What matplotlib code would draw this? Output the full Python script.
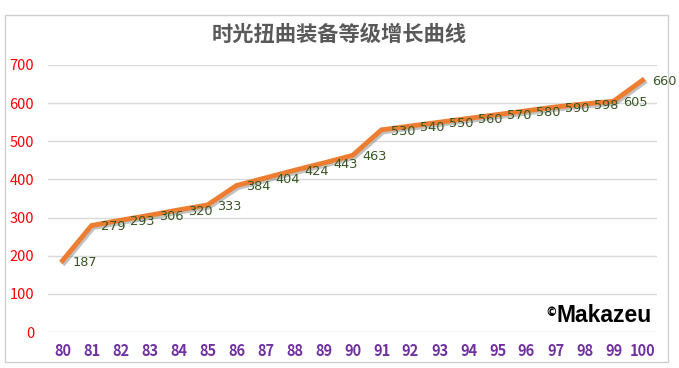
import matplotlib.pyplot as plt
from matplotlib.patches import Rectangle
import matplotlib.patheffects as pe

plt.rcParams['font.family'] = ['Noto Sans CJK SC', 'DejaVu Sans']

# Data
levels = list(range(80, 101))
power = [187, 279, 293, 306, 320, 333, 384, 404, 424, 443, 463,
         530, 540, 550, 560, 570, 580, 590, 598, 605, 660]
y_ticks = [0, 100, 200, 300, 400, 500, 600, 700]

fig = plt.figure(figsize=(6.79, 3.68), dpi=100)
fig.patch.set_facecolor('white')

# chart frame
fig.patches.append(Rectangle((5 / 679, 1 - 362 / 368), 663 / 679, 347 / 368,
                             transform=fig.transFigure, fill=False,
                             edgecolor='#d0d0d0', linewidth=1.0))

ax = fig.add_axes([48 / 679, 1 - 332 / 368, 609 / 679, 267 / 368])
x = list(range(len(levels)))
ax.plot(x, power, color='#ED7D31', linewidth=3.5, solid_joinstyle='miter',
        path_effects=[pe.SimpleLineShadow(offset=(1.2, -1.5), shadow_color='#777777', alpha=0.45),
                      pe.Normal()], zorder=3)

for xi, v in zip(x, power):
    ax.annotate(str(v), (xi, v), xytext=(7, -1), textcoords='offset points',
                ha='left', va='center', fontsize=9.3, color='#375623', zorder=4,
                family='DejaVu Sans')

ax.set_xlim(-0.5, len(levels) - 0.5)
ax.set_ylim(0, 700)
ax.set_yticks(y_ticks)
ax.set_xticks(x)
ax.set_xticklabels([str(l) for l in levels])
ax.tick_params(axis='y', colors='#FF0000', labelsize=10.5, length=0, pad=10)
ax.tick_params(axis='x', colors='#7030A0', labelsize=10.5, length=0, pad=8)
for lab in ax.get_xticklabels():
    lab.set_fontweight('bold')
ax.grid(axis='y', color='#d9d9d9', linewidth=1)
ax.set_axisbelow(True)
for s in ax.spines.values():
    s.set_visible(False)

fig.text(0.5, 1 - 34 / 368, '时光扭曲装备等级增长曲线', ha='center', va='center',
         fontsize=15.3, fontweight='bold', color='#595959')

# watermark
fig.text(652 / 679, 1 - 322 / 368, 'Makazeu', ha='right', va='baseline',
         fontsize=16.5, fontweight='bold', color='black', family='Liberation Sans')
fig.text(557 / 679, 1 - 313 / 368, '©', ha='right', va='center',
         fontsize=8.5, fontweight='bold', color='black', family='DejaVu Sans')

fig.savefig('out.png', dpi=100)
